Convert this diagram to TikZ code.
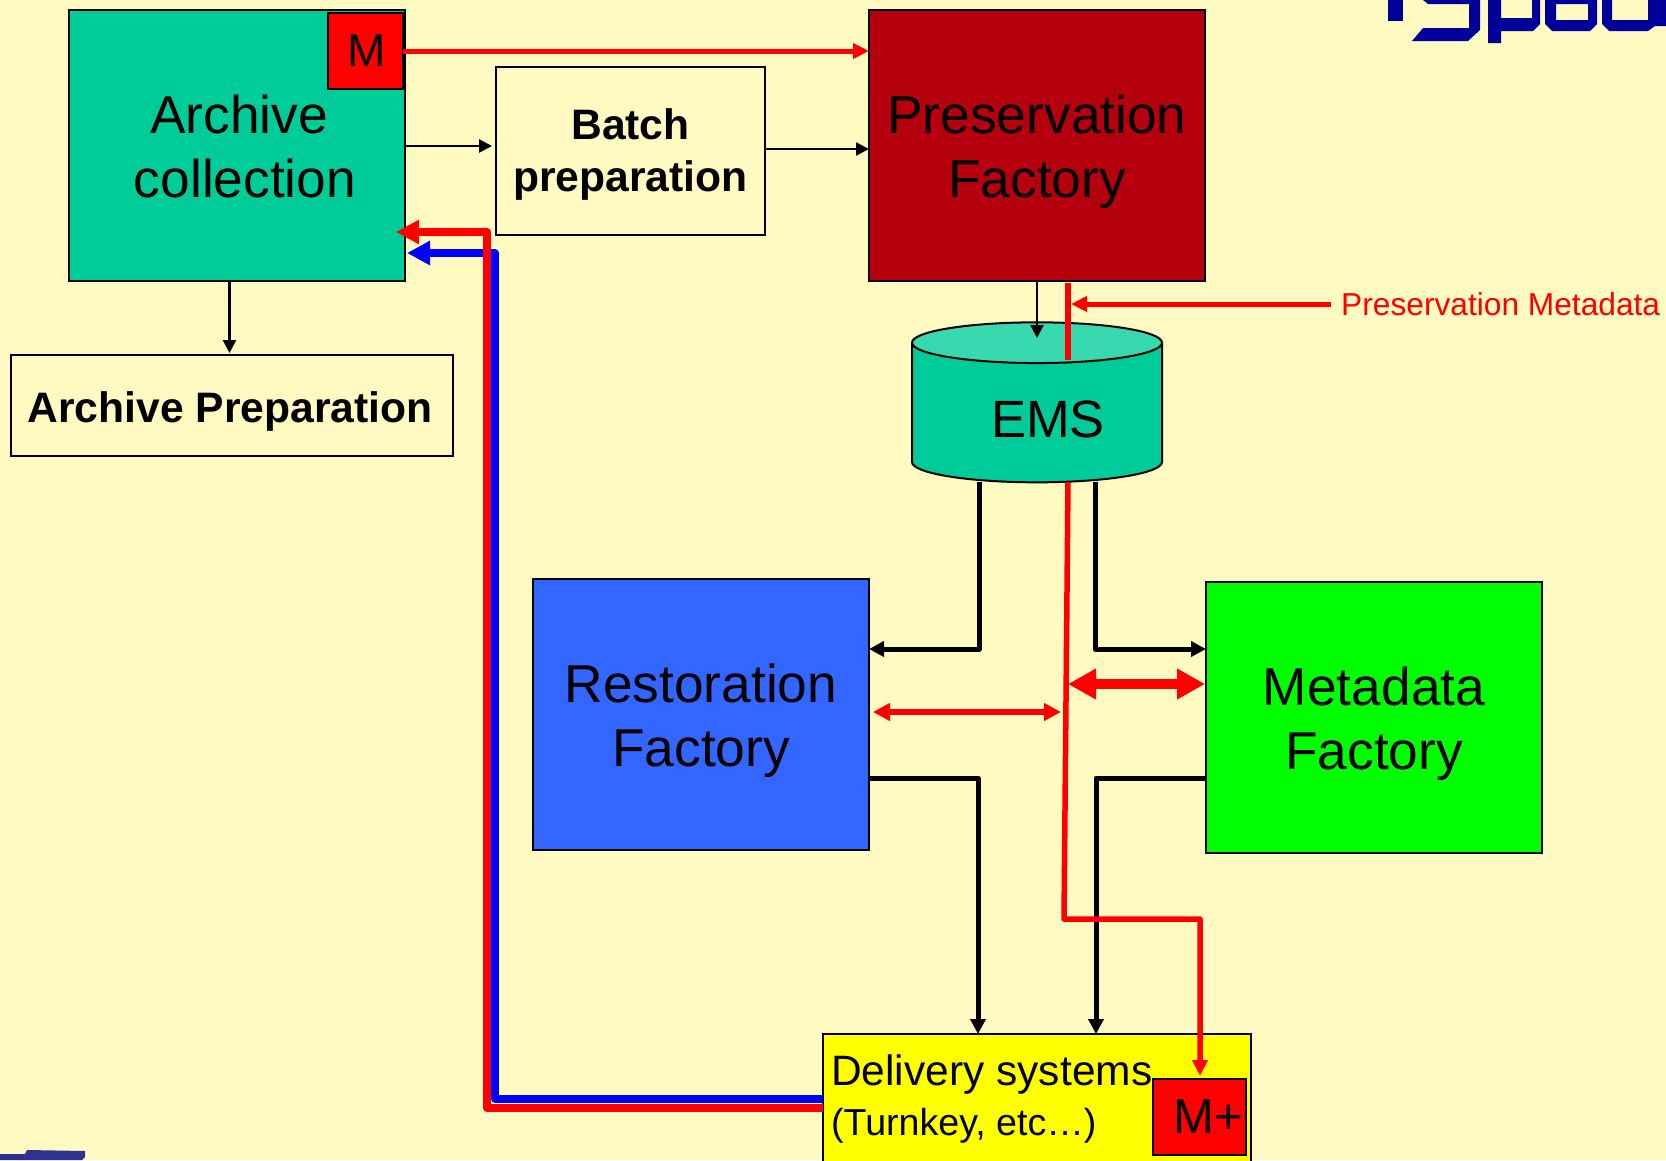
\documentclass[tikz,border=0pt]{standalone}
\usepackage{fontspec}
\setmainfont{Liberation Sans}
\usetikzlibrary{arrows.meta, shapes.geometric}

\definecolor{paper}{HTML}{FFFAC2}
\definecolor{teal}{HTML}{00CC99}
\definecolor{tealtop}{HTML}{38D9AE}
\definecolor{darkred}{HTML}{B5000D}
\definecolor{restblue}{HTML}{3366FF}
\definecolor{logoblue}{HTML}{000099}
\definecolor{logodark}{HTML}{2E3192}
\definecolor{puregreen}{HTML}{00FF00}
\definecolor{pureyellow}{HTML}{FFFF00}
\definecolor{purered}{HTML}{FF0000}
\definecolor{pureblue}{HTML}{0000FF}

\tikzset{
	panel/.style={draw=black, line width=2pt, inner sep=0pt, outer sep=0pt, anchor=north west, align=center},
	factory/.style={panel, minimum width=336pt, minimum height=271pt, text height=115pt, font=\fontsize{53.3}{64}\selectfont},
	prep/.style={panel, fill=paper, font=\fontsize{42.6}{52}\selectfont\bfseries},
	metabox/.style={panel, fill=purered, font=\fontsize{46}{54}\selectfont},
	thinline/.style={-{Triangle[length=13pt, width=13pt]}, line width=2.5pt},
	blackline/.style={-{Triangle[length=15pt, width=15pt]}, line width=5pt, line join=round},
	redline/.style={-{Triangle[length=16pt, width=15pt]}, purered, line width=5pt, line join=round},
	backline/.style={-{Triangle[length=23pt, width=23pt]}, line width=7.5pt, line join=round},
}

\begin{document}
\begin{tikzpicture}[x=1pt, y=-1pt]
	\useasboundingbox (0, 0) rectangle (1666, 1160);
	\clip (0, 0) rectangle (1666, 1160);
	\fill [paper]	(0, 0) rectangle (1666, 1160);

	% logo pieces, cut off by the page
	\fill [logoblue]	(1388, 0) rectangle (1403, 21);
	\fill [logoblue]	(1423, 0) -- (1480, 0) -- (1480, 30) -- (1468, 41) -- (1412, 41) -- (1423, 28) -- (1469, 28) -- (1469, 4) -- (1428, 4) -- cycle;
	\fill [logoblue]	(1488, 0) -- (1501, 0) -- (1501, 18) -- (1532, 18) -- (1532, 0) -- (1540, 0) -- (1540, 24) -- (1533, 31) -- (1501, 31) -- (1501, 43) -- (1488, 43) -- cycle;
	\fill [logoblue, even odd rule]	(1545, 0) -- (1597, 0) -- (1597, 24) -- (1590, 31) -- (1552, 31) -- (1545, 24) -- cycle
					(1556, 4) rectangle (1588, 20);
	\fill [logoblue]	(1602, 0) -- (1612, 0) -- (1612, 20) -- (1648, 20) -- (1648, 0) -- (1666, 0) -- (1666, 26) -- (1655, 26) -- (1648, 31) -- (1609, 31) -- (1602, 24) -- cycle;
	\fill [logodark]	(0, 1160) -- (0, 1154) -- (25, 1154) -- (27, 1150) -- (85, 1151) -- (85, 1157) -- (82, 1160) -- cycle;

	% boxes
	\node [factory, fill=teal, text height=105pt]		(archive) at (69, 10) {\hspace{4pt}Archive\\\hspace{16pt}collection};
	\node [metabox, minimum width=75pt, minimum height=76pt]	(metaold) at (328, 13) {\hspace{2pt}M};
	\node [prep, minimum width=269pt, minimum height=168pt, text height=89pt]	(batch) at (496, 67) {Batch\\preparation};
	\node [factory, fill=darkred]	(preservation) at (869, 10) {Preservation\\Factory};
	\node [prep, minimum width=442pt, minimum height=101pt, text height=42pt]	(archiveprep) at (11, 355) {\hspace*{-4pt}Archive Preparation};
	\node [cylinder, draw=black, line width=2pt, shape border rotate=90, aspect=0.3, inner sep=0pt, outer sep=0pt,
		minimum width=250pt, minimum height=160pt, cylinder uses custom fill, cylinder body fill=teal, cylinder end fill=tealtop,
		text height=49pt, font=\fontsize{52.5}{60}\selectfont]	(ems) at (1037, 413) {\hspace{22pt}EMS};
	\node [factory, fill=restblue]	(restoration) at (533, 579) {Restoration\\Factory};
	\node [factory, fill=puregreen]	(metadata) at (1206, 582) {Metadata\\Factory};
	\node [panel, fill=pureyellow, minimum width=428pt, minimum height=150pt]	(delivery) at (823, 1034) {};
	\node [anchor=base west, inner sep=0pt, font=\fontsize{42.5}{50}\selectfont]	(deliveryname) at (831, 1085) {Delivery systems};
	\node [anchor=base west, inner sep=0pt, font=\fontsize{37.6}{44}\selectfont]	(deliverynote) at (831, 1135) {(Turnkey, etc…)};
	\node [metabox, minimum width=93pt, minimum height=76pt, font=\fontsize{49}{54}\selectfont]	(metanew) at (1153, 1079) {\hspace{18pt}M+};
	\node [anchor=west, inner sep=0pt, purered, font=\fontsize{31.7}{38}\selectfont]	(metalabel) at (1341, 304) {Preservation Metadata};

	% ends of the connectors
	\coordinate (emsin) at (1037, 338);
	\coordinate (redtop) at (1068, 283);
	\coordinate (redems) at (1068, 360);
	\coordinate (redout) at (1068, 482);
	\coordinate (redturn) at (1064, 919);
	\coordinate (redover) at (1200, 919);
	\coordinate (metain) at (1200, 1076);
	\coordinate (labelend) at (1071, 304);
	\coordinate (labelstart) at (1331, 304);
	\coordinate (emsleft) at (979, 482);
	\coordinate (emsright) at (1095, 482);
	\coordinate (restleft) at (979, 649);
	\coordinate (metaright) at (1095, 649);
	\coordinate (restout) at (869, 778);
	\coordinate (restturn) at (978, 778);
	\coordinate (metaout) at (1206, 778);
	\coordinate (metaturn) at (1096, 778);
	\coordinate (blueturn) at (495, 1099);
	\coordinate (blueup) at (495, 253);
	\coordinate (redback) at (487, 1108);
	\coordinate (redup) at (487, 232);

	% thin arrows
	\draw [thinline]	(archive.east |- 0, 146) to (492, 146);
	\draw [thinline]	(batch.east |- 0, 149) to (preservation.west |- 0, 149);
	\draw [thinline]	(229.5, 281) to (229.5, 353);
	\draw [thinline]	(preservation.south) to (emsin);

	% black arrows
	\draw [blackline]	(emsleft) to (restleft) to (restoration.east |- restleft);
	\draw [blackline]	(emsright) to (metaright) to (metadata.west |- metaright);
	\draw [blackline]	(restout) to (restturn) to (restturn |- delivery.north);
	\draw [blackline]	(metaout) to (metaturn) to (metaturn |- delivery.north);

	% red arrows
	\draw [redline]		(metaold.east) to (metaold.east -| preservation.west);
	\draw [-, purered, line width=6pt]	(redtop) to (redems);
	\draw [redline]		(labelstart) to (labelend);
	\draw [redline, line width=5.5pt]	(redout) to (redturn) to (redover) to (metain);
	\draw [{Triangle[length=17pt, width=17pt]}-{Triangle[length=17pt, width=17pt]}, purered, line width=6pt]	(873, 712) to (1061, 712);
	\draw [{Triangle[length=28pt, width=29pt]}-{Triangle[length=28pt, width=29pt]}, purered, line width=10pt]	(1068, 684) to (1205, 684);

	% way back to the archive
	\draw [backline, pureblue]	(delivery.west |- blueturn) to (blueturn) to (blueup) to (407, 253);
	\draw [backline, purered]	(delivery.west |- redback) to (redback) to (redup) to (396, 232);
\end{tikzpicture}
\end{document}
